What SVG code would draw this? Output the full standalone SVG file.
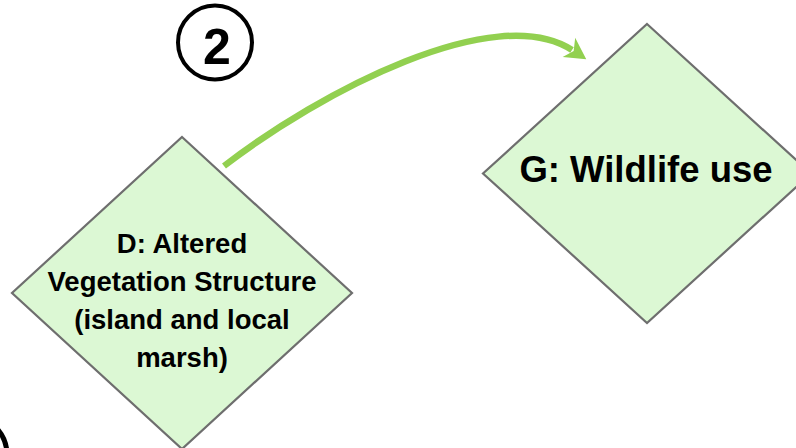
<svg xmlns="http://www.w3.org/2000/svg" width="796" height="448" viewBox="0 0 796 448">
<defs>
<style>
.node{fill:#dcf8d4;stroke:#6e6e6e;stroke-width:2.2}
.lbl{font-family:"Liberation Sans",Arial,sans-serif;font-weight:bold;fill:#000;text-anchor:middle}
.conn{fill:none;stroke:#92d050;stroke-width:6.5}
</style>
<marker id="ah" markerUnits="userSpaceOnUse" markerWidth="30" markerHeight="30" refX="4" refY="0" viewBox="-2 -15 30 30" orient="auto" overflow="visible">
<path d="M0,-12 L21,0 L0,11 L6,0 Z" fill="#92d050"/>
</marker>
</defs>
<rect width="796" height="448" fill="#fff"/>
<g id="node-D">
<polygon class="node" points="182,137 352,293 182,449 12,293"/>
<text class="lbl" font-size="27.5" x="182" y="253">D: Altered</text>
<text class="lbl" font-size="27.5" x="182" y="291">Vegetation Structure</text>
<text class="lbl" font-size="27.5" x="182" y="329">(island and local</text>
<text class="lbl" font-size="27.5" x="182" y="367">marsh)</text>
</g>
<g id="node-G">
<polygon class="node" points="647,24 811,173.5 647,323 483,173.5"/>
<text class="lbl" font-size="36.5" x="646" y="182">G: Wildlife use</text>
</g>
<g id="badge-2">
<circle cx="215" cy="42.5" r="37" fill="none" stroke="#000" stroke-width="4"/>
<text class="lbl" font-size="50" x="217" y="64">2</text>
</g>
<g id="badge-partial">
<circle cx="-33" cy="455" r="40" fill="none" stroke="#000" stroke-width="5"/>
</g>
<g id="connectors">
<path class="conn" d="M224,166 C320,92 495,0 572,50" marker-end="url(#ah)"/>
</g>
</svg>
